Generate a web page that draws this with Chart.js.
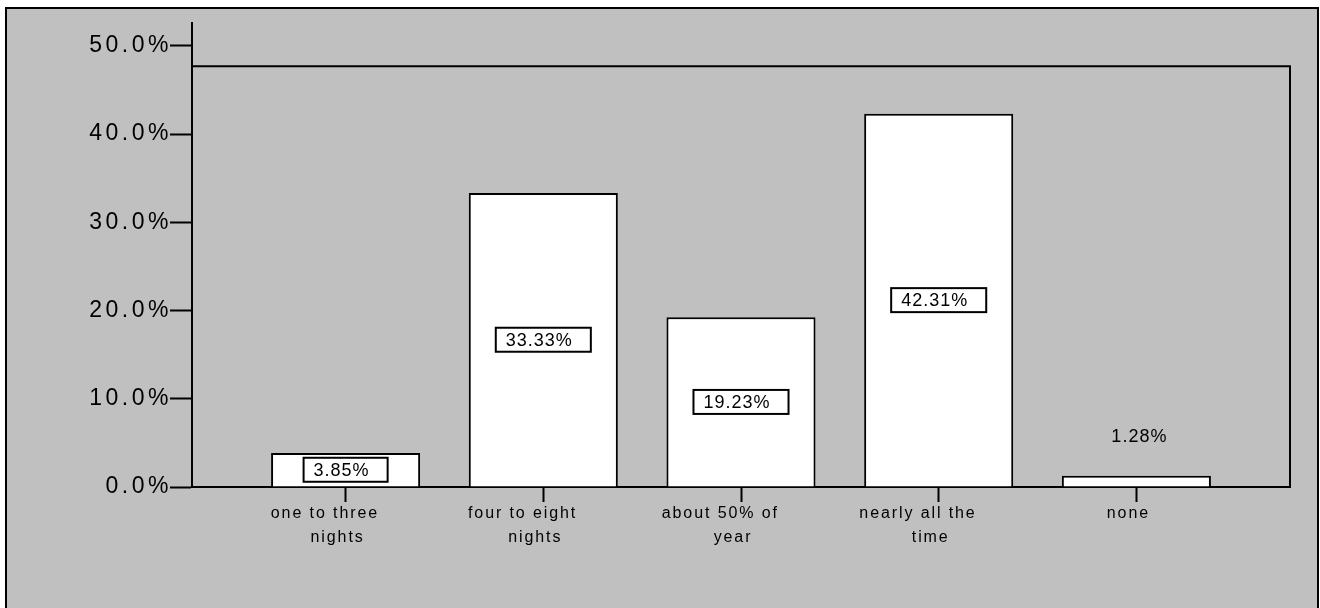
<!DOCTYPE html>
<html>
<head>
<meta charset="utf-8">
<script src="https://cdn.jsdelivr.net/npm/chart.js@4/dist/chart.umd.min.js"></script>
<style>
  html, body { margin: 0; padding: 0; background: #ffffff; }
  canvas { display: block; }
</style>
</head>
<body>
<canvas id="c" width="1320" height="608"></canvas>
<script>
// Category labels (each entry is split over two lines under the axis)
const categories = [
  ['one to three', 'nights'],
  ['four to eight', 'nights'],
  ['about 50% of', 'year'],
  ['nearly all the', 'time'],
  ['none']
];
// Share of answers per category, in percent
const shares = [3.85, 33.33, 19.23, 42.31, 1.28];
// Y axis tick values, in percent
const yTicks = [0, 10, 20, 30, 40, 50];

const INK = '#000000';
const PANEL = '#c0c0c0';
const FONT = '"Liberation Sans", Arial, Helvetica, sans-serif';
Chart.defaults.font.family = FONT;
Chart.defaults.color = INK;

// letter spacing used when drawing each axis' tick labels
const tickSpacing = { x: '1.9px', y: '3.5px' };

// Gray panel with a black frame behind everything
const panel = {
  id: 'panel',
  beforeDraw(chart) {
    const ctx = chart.ctx;
    ctx.save();
    ctx.fillStyle = '#ffffff';
    ctx.fillRect(0, 0, chart.width, chart.height);
    ctx.fillStyle = PANEL;
    ctx.fillRect(6, 8, 1312, 620);
    ctx.strokeStyle = INK;
    ctx.lineWidth = 2;
    ctx.strokeRect(6, 8, 1312, 620);
    ctx.restore();

    // tick labels drawn with extra tracking
    Object.entries(tickSpacing).forEach(([id, sp]) => {
      const scale = chart.scales[id];
      if (!scale || scale._spaced) return;
      const drawLabels = scale.drawLabels;
      scale.drawLabels = function (area) {
        this.ctx.save();
        this.ctx.letterSpacing = sp;
        drawLabels.call(this, area);
        this.ctx.restore();
      };
      scale._spaced = true;
    });
  }
};

// Plot box: top edge and right edge closing the axes
const plotBox = {
  id: 'plotBox',
  beforeDatasetsDraw(chart) {
    const { ctx, chartArea, scales } = chart;
    const top = scales.y.getPixelForValue(47.7);
    const bottom = scales.y.getPixelForValue(0);
    ctx.save();
    ctx.strokeStyle = INK;
    ctx.lineWidth = 2;
    ctx.beginPath();
    ctx.moveTo(chartArea.left, top);
    ctx.lineTo(chartArea.right, top);
    ctx.lineTo(chartArea.right, bottom);
    ctx.stroke();
    ctx.restore();
  }
};

// Value labels: boxed in the middle of tall bars, plain above short ones
const valueLabels = {
  id: 'valueLabels',
  afterDatasetsDraw(chart) {
    const ctx = chart.ctx;
    const meta = chart.getDatasetMeta(0);
    ctx.save();
    ctx.font = '18px ' + FONT;
    ctx.letterSpacing = '1px';
    ctx.textBaseline = 'middle';
    meta.data.forEach((bar, i) => {
      const { x, y, base } = bar.getProps(['x', 'y', 'base'], true);
      const text = shares[i].toFixed(2) + '%';
      const w = ctx.measureText(text).width;
      if (base - y > 30) {
        const mid = (y + base) / 2;
        const bw = w + 28, bh = 24;
        const left = x - bw / 2;
        ctx.fillStyle = '#ffffff';
        ctx.fillRect(left, mid - bh / 2, bw, bh);
        ctx.strokeStyle = INK;
        ctx.lineWidth = 2;
        ctx.strokeRect(left, mid - bh / 2, bw, bh);
        ctx.fillStyle = INK;
        ctx.textAlign = 'left';
        ctx.fillText(text, left + 10, mid + 1);
      } else {
        ctx.fillStyle = INK;
        ctx.textAlign = 'center';
        ctx.fillText(text, x + 3, y - 39);
      }
    });
    ctx.restore();
  }
};

// first line of a two-line label sits a little left of its tick
const labelLines = (lines) =>
  lines.length > 1 ? [lines[0] + '\u00a0\u00a0\u00a0\u00a0', ...lines.slice(1)] : lines;

new Chart(document.getElementById('c'), {
  type: 'bar',
  data: {
    datasets: [{
      data: shares.map((v, i) => ({ x: i, y: v })),
      backgroundColor: '#ffffff',
      borderColor: INK,
      borderWidth: 2,
      borderSkipped: 'bottom',
      categoryPercentage: 1,
      barPercentage: 0.754
    }]
  },
  options: {
    responsive: false,
    animation: false,
    devicePixelRatio: 1,
    layout: { padding: { left: 0, right: 30, top: 23, bottom: 0 } },
    plugins: { legend: { display: false }, tooltip: { enabled: false } },
    scales: {
      x: {
        type: 'linear',
        offset: false,
        min: -0.777,
        max: 4.777,
        afterBuildTicks: (s) => { s.ticks = categories.map((_, i) => ({ value: i })); },
        afterFit: (s) => { s.height = 121; },
        grid: {
          display: true, offset: false, drawOnChartArea: false, drawTicks: true,
          tickLength: 15, tickWidth: 2, tickColor: INK
        },
        border: { display: true, color: INK, width: 2 },
        ticks: {
          autoSkip: false,
          maxRotation: 0,
          padding: 0,
          labelOffset: -8,
          color: INK,
          font: { size: 16, lineHeight: 1.47 },
          callback: (v) => labelLines(categories[v])
        }
      },
      y: {
        min: 0,
        max: 52.6,
        afterBuildTicks: (s) => { s.ticks = yTicks.map((v) => ({ value: v })); },
        afterFit: (s) => { s.width = 192; },
        grid: {
          display: true, drawOnChartArea: false, drawTicks: true,
          tickLength: 22, tickWidth: 2, tickColor: INK
        },
        border: { display: true, color: INK, width: 2 },
        ticks: {
          includeBounds: false,
          padding: -2,
          color: INK,
          font: { size: 23 },
          callback: (v) => v.toFixed(1) + '%'
        }
      }
    }
  },
  plugins: [panel, plotBox, valueLabels]
});
</script>
</body>
</html>
